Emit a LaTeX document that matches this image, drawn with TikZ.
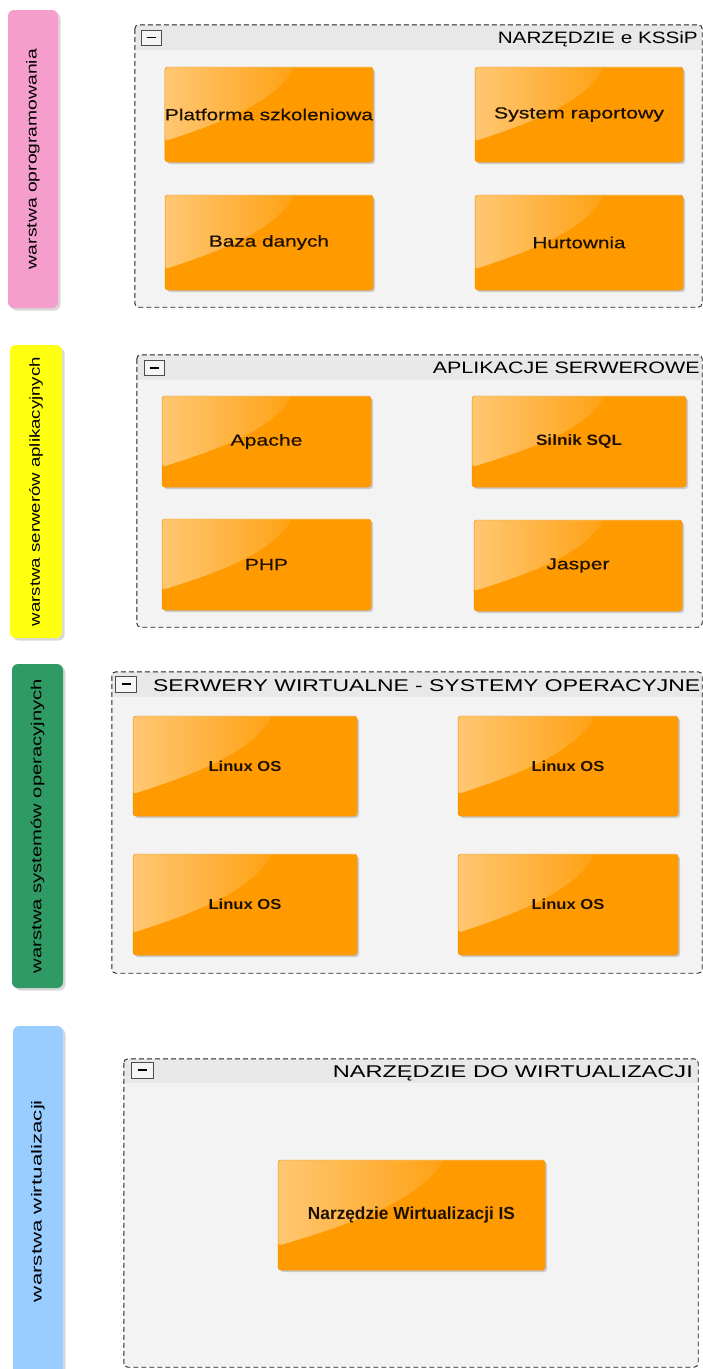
\documentclass[tikz,border=0pt]{standalone}
\usepackage{fontspec}
\setmainfont{Liberation Sans}
\newfontfamily\medfont{Liberation Sans}[FakeBold=0.5]
\usepackage{graphicx}
\usetikzlibrary{calc,shadows,fadings}
\definecolor{orgC}{HTML}{FF9A00}
\definecolor{orgB}{HTML}{F29000}
\definecolor{txtC}{HTML}{1E1000}
\definecolor{pinkC}{HTML}{F59ECC}
\definecolor{yelC}{HTML}{FFFF10}
\definecolor{grnC}{HTML}{2F9A64}
\definecolor{bluC}{HTML}{99CCFF}
\definecolor{contC}{HTML}{F3F3F3}
\definecolor{hdrC}{HTML}{E8E8E8}
\definecolor{brdC}{HTML}{222222}
\newcommand{\tw}[2]{\resizebox{#1pt}{\height}{#2}}
\tikzfading[name=glossfade, left color=transparent!55, right color=transparent!92]
\tikzset{
  gloss/.style={path picture={
    \coordinate (gNW) at (path picture bounding box.north west);
    \coordinate (gNE) at (path picture bounding box.north east);
    \coordinate (gSW) at (path picture bounding box.south west);
    \coordinate (gSE) at (path picture bounding box.south east);
    \fill[white, path fading=glossfade] (gNW) -- ($(gNW)!0.62!(gNE)$)
      .. controls ($($(gNW)!0.40!(gSW)$)!0.52!($(gNE)!0.40!(gSE)$)$)
      and ($($(gNW)!0.62!(gSW)$)!0.22!($(gNE)!0.62!(gSE)$)$)
      .. ($(gNW)!0.78!(gSW)$) -- cycle;
    \draw[white, opacity=0.3, line width=1.2pt] (gNW) -- (gNE);}},
  obox/.style={draw=orgB, line width=0.5pt, fill=orgC, rounded corners=3pt, inner sep=0pt,
    drop shadow={shadow xshift=2pt, shadow yshift=-2pt, opacity=0.35}, gloss,
    text=txtC, font=\fontsize{16}{19}\medfont},
  bbox/.style={obox, font=\fontsize{15}{18}\selectfont\bfseries},
  pill/.style={draw=none, rounded corners=6pt, inner sep=0pt, text=black,
    drop shadow={shadow xshift=2.5pt, shadow yshift=-2.5pt, opacity=0.3},
    font=\fontsize{14.5}{17}\selectfont},
  cont/.style={draw=none, fill=contC, rounded corners=3pt, inner sep=0pt},
  contborder/.style={draw=brdC, line width=0.9pt, dash pattern=on 5pt off 3pt, rounded corners=4pt},
  ttl/.style={inner sep=0pt, text=black, font=\fontsize{16.5}{19}\selectfont},
  minbox/.style={draw=gray!60!black, fill=gray!8, line width=0.8pt, inner sep=0pt}
}
\begin{document}
\begin{tikzpicture}[x=1pt, y=-1pt]
\useasboundingbox (0,0) rectangle (703,1369);
\fill[white] (0,0) rectangle (703,1369);

% ---------- layer pills ----------
\node[pill, fill=pinkC, minimum width=50pt, minimum height=298pt] (L1) at (33,159)
  {\rotatebox{90}{\tw{220}{warstwa oprogramowania}}};
\node[pill, fill=yelC, minimum width=52pt, minimum height=293pt] (L2) at (36,491.5)
  {\rotatebox{90}{\tw{269}{warstwa serwerów aplikacyjnych}}};
\node[pill, fill=grnC, minimum width=51pt, minimum height=324pt] (L3) at (37.5,826)
  {\rotatebox{90}{\tw{294}{warstwa systemów operacyjnych}}};
\node[pill, fill=bluC, minimum width=50pt, minimum height=350pt] (L4) at (38,1201)
  {\rotatebox{90}{\tw{202}{warstwa wirtualizacji}}};

% ---------- containers ----------
\node[cont, minimum width=567pt, minimum height=282pt] (C1) at (418.5,166) {};
\fill[hdrC] ($(C1.north west)+(0.5,0.5)$) rectangle ($(C1.north east)+(-0.5,25)$);
\draw[contborder] (C1.north west) rectangle (C1.south east);
\node[minbox, minimum width=20pt, minimum height=15pt] (M1) at (151,37.5) {\rule{9pt}{1.8pt}};
\node[ttl, anchor=base east] (T1) at (698,43) {\tw{200}{NARZĘDZIE e KSSiP}};

\node[cont, minimum width=565pt, minimum height=272pt] (C2) at (419.5,491) {};
\fill[hdrC] ($(C2.north west)+(0.5,0.5)$) rectangle ($(C2.north east)+(-0.5,25)$);
\draw[contborder] (C2.north west) rectangle (C2.south east);
\node[minbox, minimum width=20pt, minimum height=15pt] (M2) at (154,368) {\rule{9pt}{1.8pt}};
\node[ttl, anchor=base east] (T2) at (700,373) {\tw{267}{APLIKACJE SERWEROWE}};

\node[cont, minimum width=590pt, minimum height=301pt] (C3) at (407,822.5) {};
\fill[hdrC] ($(C3.north west)+(0.5,0.5)$) rectangle ($(C3.north east)+(-0.5,25)$);
\draw[contborder] (C3.north west) rectangle (C3.south east);
\node[minbox, minimum width=21pt, minimum height=16pt] (M3) at (126,684) {\rule{9pt}{1.8pt}};
\node[ttl, anchor=base west, font=\fontsize{17}{20}\selectfont] (T3) at (153,691) {\tw{547}{SERWERY WIRTUALNE - SYSTEMY OPERACYJNE}};

\node[cont, minimum width=574pt, minimum height=308pt] (C4) at (411,1213) {};
\fill[hdrC] ($(C4.north west)+(0.5,0.5)$) rectangle ($(C4.north east)+(-0.5,24)$);
\draw[contborder] (C4.north west) rectangle (C4.south east);
\node[minbox, minimum width=22pt, minimum height=16pt] (M4) at (142,1070) {\rule{9pt}{1.8pt}};
\node[ttl, anchor=base east, font=\fontsize{17}{20}\selectfont] (T4) at (693,1077) {\tw{360}{NARZĘDZIE DO WIRTUALIZACJI}};

% ---------- component boxes ----------
\node[obox, minimum width=208pt, minimum height=95pt] (P1) at (269,114.5) {\tw{208}{Platforma szkoleniowa}};
\node[obox, minimum width=208pt, minimum height=95pt] (P2) at (579,114.5) {\tw{170}{System raportowy}};
\node[obox, minimum width=208pt, minimum height=95pt] (P3) at (269,242.5) {\tw{120}{Baza danych}};
\node[obox, minimum width=208pt, minimum height=95pt] (P4) at (579,242.5) {\tw{93}{Hurtownia}};

\node[obox, minimum width=209pt, minimum height=91pt] (A1) at (266.5,441.5) {\tw{72}{Apache}};
\node[bbox, minimum width=214pt, minimum height=91pt] (A2) at (579,441.5) {\tw{86}{Silnik SQL}};
\node[obox, minimum width=209pt, minimum height=91pt] (A3) at (266.5,564.5) {\tw{43}{PHP}};
\node[obox, minimum width=208pt, minimum height=91pt] (A4) at (578,565.5) {\tw{63}{Jasper}};

\node[bbox, font=\fontsize{14.5}{17}\selectfont\bfseries, minimum width=224pt, minimum height=100pt] (S1) at (245,766) {\tw{73}{Linux OS}};
\node[bbox, font=\fontsize{14.5}{17}\selectfont\bfseries, minimum width=220pt, minimum height=100pt] (S2) at (568,766) {\tw{73}{Linux OS}};
\node[bbox, font=\fontsize{14.5}{17}\selectfont\bfseries, minimum width=224pt, minimum height=101pt] (S3) at (245,904.5) {\tw{73}{Linux OS}};
\node[bbox, font=\fontsize{14.5}{17}\selectfont\bfseries, minimum width=220pt, minimum height=101pt] (S4) at (568,904.5) {\tw{73}{Linux OS}};

\node[bbox, font=\fontsize{17.5}{20}\selectfont\bfseries, minimum width=267pt, minimum height=110pt] (V1) at (411.5,1215) {\tw{207}{Narzędzie Wirtualizacji IS}};
\end{tikzpicture}
\end{document}
